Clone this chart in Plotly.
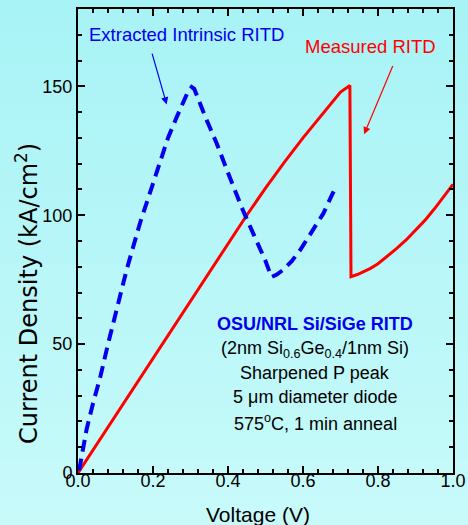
import plotly.graph_objects as go

# Measured RITD (red, solid)
red_v = [0.0, 0.1, 0.2, 0.3, 0.4, 0.45, 0.5, 0.55, 0.6, 0.65, 0.7, 0.725,
         0.728, 0.745, 0.76, 0.78, 0.8, 0.825, 0.85, 0.875, 0.9, 0.925, 0.95, 0.975, 1.0]
red_j = [0.0, 22.3, 44.6, 67.0, 89.2, 100.0, 110.5, 120.5, 130.0, 139.0, 147.8, 150.3,
         76.2, 77.0, 77.9, 79.4, 81.2, 84.0, 87.1, 90.4, 94.0, 98.0, 102.4, 107.0, 112.0]

# Extracted intrinsic RITD (blue, dashed)
blue_v = [0.003, 0.01, 0.023, 0.04, 0.059, 0.08, 0.103, 0.13, 0.165, 0.19, 0.219, 0.24,
          0.263, 0.28, 0.292, 0.303, 0.31, 0.34, 0.37, 0.4, 0.436, 0.47, 0.499, 0.516, 0.53,
          0.548, 0.57, 0.592, 0.62, 0.654, 0.688]
blue_j = [1.0, 7.0, 17.0, 27.0, 37.0, 50.0, 63.8, 79.0, 96.8, 108.0, 121.3, 130.0,
          138.0, 143.5, 147.5, 149.7, 149.0, 138.0, 127.8, 116.5, 103.2, 92.0, 82.6, 76.0, 77.0,
          78.9, 82.2, 86.4, 92.5, 100.6, 111.2]

x_ticks = [0.0, 0.2, 0.4, 0.6, 0.8, 1.0]
x_tick_labels = ["0.0", "0.2", "0.4", "0.6", "0.8", "1.0"]
y_ticks = [0, 50, 100, 150]
y_tick_labels = ["0", "50", "100", "150"]

info_lines = [
    "<b>OSU/NRL Si/SiGe RITD</b>",
    "(2nm Si<sub>0.6</sub>Ge<sub>0.4</sub>/1nm Si)",
    "Sharpened P peak",
    "5 \u03bcm diameter diode",
    "575<sup>o</sup>C, 1 min anneal",
]
info_y = [57.8, 48.1, 38.9, 29.6, 19.5]
info_colors = ["#0000EE", "black", "black", "black", "black"]

FONT = "Liberation Sans, Arial, sans-serif"

fig = go.Figure()
fig.add_trace(go.Scatter(x=red_v, y=red_j, mode="lines",
                         line=dict(color="#FF0000", width=3), showlegend=False))
fig.add_trace(go.Scatter(x=blue_v, y=blue_j, mode="lines",
                         line=dict(color="#0000EE", width=4, dash="12px,7px"),
                         showlegend=False))
# invisible carrier trace for the tick-label axis
fig.add_trace(go.Scatter(x=red_v, y=red_j, xaxis="x2", mode="lines",
                         line=dict(width=0, color="rgba(0,0,0,0)"), opacity=0,
                         hoverinfo="skip", showlegend=False))

# background gradient bands
shapes = []
n = 30
top, bot = 1.03, -0.125
c0 = (168, 243, 246)
c1 = (200, 250, 250)
for i in range(n):
    f = i / (n - 1)
    col = tuple(int(round(c0[k] + (c1[k] - c0[k]) * f)) for k in range(3))
    y1 = top - (top - bot) * i / n
    y0 = top - (top - bot) * (i + 1) / n - 0.002
    shapes.append(dict(type="rect", xref="paper", yref="paper",
                       x0=-0.25, x1=1.1, y0=y0, y1=y1,
                       fillcolor="rgb(%d,%d,%d)" % col, line=dict(width=0),
                       layer="below"))

annotations = [
    dict(x=0.2893, y=170.2, xref="x", yref="y", text="Extracted Intrinsic RITD",
         showarrow=False, font=dict(family=FONT, size=18.5, color="#0000EE")),
    dict(x=0.781, y=165.4, xref="x", yref="y", text="Measured RITD",
         showarrow=False, font=dict(family=FONT, size=18.5, color="#FF0000")),
    dict(x=0.2365, y=143.0, ax=0.1965, ay=163.3, xref="x", yref="y", axref="x", ayref="y",
         text="", showarrow=True, arrowhead=2, arrowsize=1.2, arrowwidth=1.2,
         arrowcolor="#0000EE"),
    dict(x=0.763, y=131.4, ax=0.841, ay=158.5, xref="x", yref="y", axref="x", ayref="y",
         text="", showarrow=True, arrowhead=2, arrowsize=1.2, arrowwidth=1.2,
         arrowcolor="#FF0000"),
    dict(x=0.48, y=-0.09, xref="paper", yref="paper", text="Voltage (V)",
         showarrow=False, yanchor="middle",
         font=dict(family=FONT, size=21, color="black")),
    dict(x=-0.136, y=0.386, xref="paper", yref="paper",
         text="Current Density (kA/cm<sup>2</sup>)", textangle=-90,
         showarrow=False, xanchor="center", yanchor="middle",
         font=dict(family="DejaVu Sans, sans-serif", size=24, color="black")),
]
for t, yy, c in zip(info_lines, info_y, info_colors):
    annotations.append(dict(x=0.632, y=yy, xref="x", yref="y", text=t, showarrow=False,
                            font=dict(family=FONT, size=18, color=c)))

axis_common = dict(showline=True, linecolor="black", linewidth=2, mirror="ticks",
                   ticks="inside", ticklen=7, tickwidth=2, tickcolor="black",
                   showgrid=False, zeroline=False, automargin=False,
                   tickfont=dict(family=FONT, size=18, color="black"))

fig.update_layout(
    width=468, height=525, autosize=False,
    margin=dict(l=78, r=15, t=9, b=52),
    paper_bgcolor="#B5F6F7", plot_bgcolor="rgba(0,0,0,0)",
    shapes=shapes, annotations=annotations,
    xaxis=dict(range=[0, 1], tickvals=x_ticks, showticklabels=False,
               minor=dict(ticks="inside", dtick=0.04, ticklen=4, tickwidth=1.5,
                          tickcolor="black"),
               **axis_common),
    xaxis2=dict(range=[0, 1], tickvals=x_ticks, ticktext=x_tick_labels,
                overlaying="x", anchor="free", position=0.0097, side="bottom",
                showline=False, ticks="", showgrid=False, zeroline=False,
                automargin=False,
                tickfont=dict(family=FONT, size=18, color="black")),
    yaxis=dict(range=[0, 180], tickvals=y_ticks, ticktext=y_tick_labels,
               minor=dict(ticks="inside", dtick=10, ticklen=4, tickwidth=1.5,
                          tickcolor="black"),
               **axis_common),
)

fig.write_html("out.html", config={"displayModeBar": False},
               post_script="document.body.style.margin='0';document.body.style.padding='0';")
